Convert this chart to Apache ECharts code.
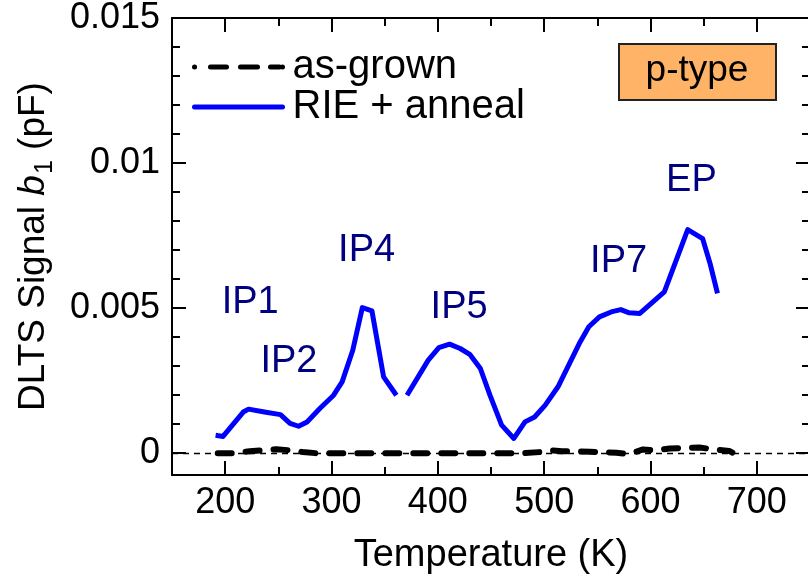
<!DOCTYPE html>
<html>
<head>
<meta charset="utf-8">
<script src="https://cdn.jsdelivr.net/npm/echarts@6/dist/echarts.min.js"></script>
<style>
html,body{margin:0;padding:0;background:#fff}
#chart{width:808px;height:580px}
</style>
</head>
<body>
<div id="chart"></div>
<script>
// RIE + anneal (null = gap in the measurement)
var rieTemp   = [191, 198, 217, 222, 237, 252, 261, 269, 277, 289, 302, 310, 320, 329, 338, 349, 361, 366,
                 371, 391, 401, 411, 421, 430, 440, 449, 460, 471.5, 482, 491, 501, 513, 533, 542, 552, 563,
                 572, 580, 590, 613, 635, 649, 656, 663];
var rieSignal = [0.00062, 0.00058, 0.00142, 0.00152, 0.00142, 0.00133, 0.00103, 0.00093, 0.00108, 0.00154,
                 0.0020, 0.00246, 0.00355, 0.00502, 0.00491, 0.00263, 0.0020, null,
                 0.0020, 0.00321, 0.00364, 0.00376, 0.00361, 0.00341, 0.00292, 0.0020, 0.00097, 0.00051,
                 0.00108, 0.00125, 0.00166, 0.00229, 0.00378, 0.00436, 0.0047, 0.00487, 0.00495, 0.00484,
                 0.00482, 0.00556, 0.00771, 0.0074, 0.00654, 0.00551];

// as-grown
var grownTemp   = [193, 210, 223, 236, 248, 261, 273, 286, 320, 360, 400, 440, 480, 496, 505, 517, 543,
                   568, 580, 593, 605, 618, 630, 646, 659, 674, 677];
var grownSignal = [0, 0, 0.00007, 0.0001, 0.00014, 0.0001, 0.00004, 0, 0, 0, 0, 0, 0, 0.00004, 0.0001,
                   0.00007, 0.00005, 0.00002, -0.00003, 0.00013, 0.0001, 0.00016, 0.00018, 0.0002,
                   0.00013, 0.00008, 0.00002];

// peak labels
var peakNames  = ['IP1', 'IP2', 'IP4', 'IP5', 'IP7', 'EP'];
var peakTemp   = [223.5, 260, 333, 420, 570, 638.5];
var peakSignal = [0.00518, 0.00316, 0.00698, 0.00501, 0.00662, 0.0094];

// ticks
var xMajor = [200, 300, 400, 500, 600, 700];
var xMinor = [250, 350, 450, 550, 650];
var yMajor = [0, 0.005, 0.01, 0.015];
var yMinor = [0.001, 0.002, 0.003, 0.004, 0.006, 0.007, 0.008, 0.009, 0.011, 0.012, 0.013, 0.014];

var FONT = 'Liberation Sans, Arial, sans-serif';

function zip(xs, ys) {
	var out = [];
	for (var i = 0; i < xs.length; i++) {
		out.push([xs[i], ys[i] === null ? '-' : ys[i]]);
	}
	return out;
}

var peakData = [];
for (var i = 0; i < peakNames.length; i++) {
	peakData.push({ value: [peakTemp[i], peakSignal[i]], name: peakNames[i] });
}

function xAx(pos, ticks, len, main) {
	return {
		type: 'value', position: pos, min: 150, max: 750,
		axisLine: { show: main, onZero: false, lineStyle: { color: '#000', width: 2 } },
		axisTick: { show: true, inside: true, length: len, customValues: ticks, lineStyle: { color: '#000', width: 2 } },
		axisLabel: { show: main && pos === 'bottom', customValues: ticks, margin: 10,
			fontSize: 36, color: '#000', fontFamily: FONT },
		splitLine: { show: false },
		name: main && pos === 'bottom' ? 'Temperature (K)' : '',
		nameLocation: 'middle', nameGap: 62,
		nameTextStyle: { fontSize: 38, color: '#000', fontFamily: FONT }
	};
}

function yAx(pos, ticks, len, main) {
	return {
		type: 'value', position: pos, min: -0.00075, max: 0.015,
		axisLine: { show: main, onZero: false, lineStyle: { color: '#000', width: 2 } },
		axisTick: { show: true, inside: true, length: len, customValues: ticks, lineStyle: { color: '#000', width: 2 } },
		axisLabel: { show: main && pos === 'left', customValues: ticks, margin: 12,
			fontSize: 36, color: '#000', fontFamily: FONT,
			formatter: function (v) { return v === 0 ? '0' : String(+v.toFixed(3)); } },
		splitLine: { show: false },
		name: main && pos === 'left' ? '{n|DLTS Signal }{i|b}{s|1}{n| (pF)}' : '',
		nameLocation: 'middle', nameGap: 120,
		nameTextStyle: {
			color: '#000', fontFamily: FONT, fontSize: 37,
			rich: {
				n: { fontSize: 37, fontFamily: FONT, color: '#000' },
				i: { fontSize: 37, fontFamily: FONT, color: '#000', fontStyle: 'italic' },
				s: { fontSize: 25, fontFamily: FONT, color: '#000', verticalAlign: 'bottom', padding: [0, 0, -6, 1] }
			}
		}
	};
}

var chart = echarts.init(document.getElementById('chart'));
var option = {
	animation: false,
	backgroundColor: '#fff',
	grid: { left: 172, right: -2, top: 18, bottom: 105, containLabel: false, outerBoundsMode: 'none' },
	xAxis: [
		xAx('bottom', xMajor, 14, true),
		xAx('bottom', xMinor, 8, false),
		xAx('top', xMajor, 14, true),
		xAx('top', xMinor, 8, false)
	],
	yAxis: [
		yAx('left', yMajor, 14, true),
		yAx('left', yMinor, 8, false),
		yAx('right', yMajor, 14, true),
		yAx('right', yMinor, 8, false)
	],
	legend: {
		orient: 'vertical', left: 192, top: 47, padding: 0, itemGap: 0,
		itemWidth: 88, itemHeight: 14,
		textStyle: { fontSize: 40, lineHeight: 39, color: '#000', fontFamily: FONT, padding: [0, 0, 0, 5] },
		data: [
			{ name: 'as-grown', itemStyle: { opacity: 0 },
				lineStyle: { width: 5, color: '#000', type: [0.1, 15.9, 16, 14, 17, 13, 9, 3], cap: 'round' } },
			{ name: 'RIE + anneal', itemStyle: { opacity: 0 },
				lineStyle: { width: 5, color: '#0000ff', type: 'solid', cap: 'round' } }
		]
	},
	series: [
		{
			name: 'as-grown', type: 'line', z: 3,
			data: zip(grownTemp, grownSignal),
			symbol: 'none', smooth: false,
			lineStyle: { color: '#000', width: 6, type: [14, 14], cap: 'round' },
			itemStyle: { color: '#000' },
			markLine: {
				silent: true, symbol: 'none', label: { show: false },
				lineStyle: { color: '#000', width: 1.3, type: [6, 5] },
				data: [{ yAxis: 0 }]
			}
		},
		{
			name: 'RIE + anneal', type: 'line', z: 4,
			data: zip(rieTemp, rieSignal),
			symbol: 'none', connectNulls: false,
			lineStyle: { color: '#0000ff', width: 5, join: 'round' },
			itemStyle: { color: '#0000ff' }
		},
		{
			name: 'peaks', type: 'scatter', z: 5,
			data: peakData, symbolSize: 0,
			itemStyle: { color: '#000080', opacity: 1 },
			label: {
				show: true, position: 'inside', formatter: '{b}',
				fontSize: 38, color: '#000080', fontFamily: FONT, opacity: 1,
				textBorderWidth: 0, textBorderColor: 'transparent'
			}
		}
	],
	graphic: [
		{
			type: 'rect', left: 618, top: 43, z: 10,
			shape: { width: 157, height: 56 },
			style: { fill: '#ffb366', stroke: '#222', lineWidth: 2 }
		},
		{
			type: 'text', x: 697, y: 71, z: 11,
			style: { text: 'p-type', fontSize: 37, fill: '#000', fontFamily: FONT, align: 'center', verticalAlign: 'middle' }
		}
	]
};
chart.setOption(option);
</script>
</body>
</html>
